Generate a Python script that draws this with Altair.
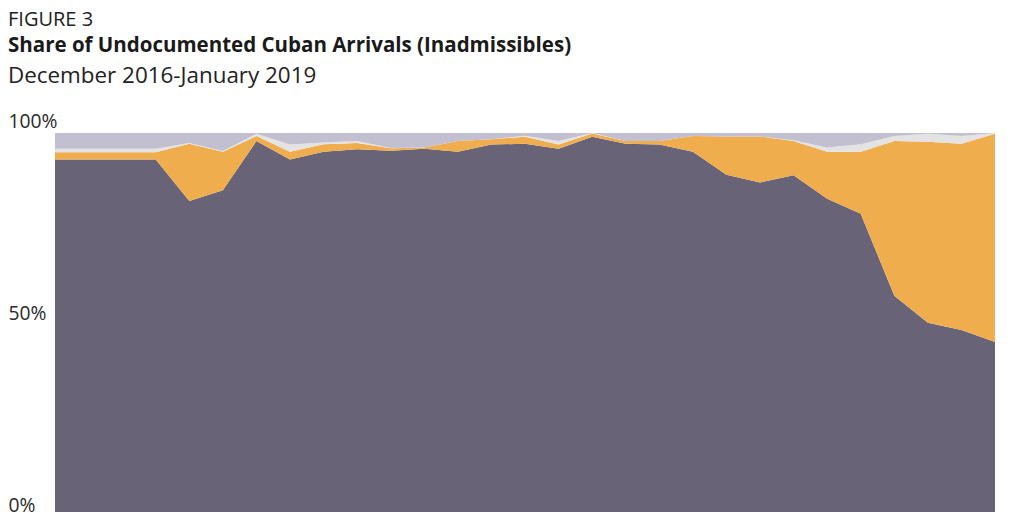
import altair as alt
import pandas as pd

# 29 evenly spaced reporting periods, December 2016 onward
periods = list(range(29))

series_names = ["Group 1", "Group 2", "Group 3", "Group 4"]
series_colors = ["#686377", "#F0AD4E", "#E3E3E3", "#C2BFD1"]

# Shares (%), bottom to top
dark = [93.1, 93.1, 93.1, 93.1, 82.3, 85.1, 97.9, 93.1, 95.1, 95.8,
        95.4, 95.9, 95.1, 97.0, 97.2, 95.9, 99.0, 97.2, 97.0, 95.1,
        89.1, 87.1, 89.0, 82.9, 79.0, 57.6, 50.6, 48.7, 45.6]
orange = [1.9, 1.9, 1.9, 1.9, 14.9, 10.0, 1.3, 2.0, 2.0, 1.6,
          0.6, 0.3, 2.8, 1.4, 1.8, 1.1, 0.9, 0.7, 0.9, 4.1,
          10.0, 12.0, 8.9, 12.2, 16.1, 40.3, 47.1, 48.5, 54.2]
light = [0.9, 0.9, 0.9, 0.9, 0.2, 0.2, 0.6, 1.9, 0.4, 0.5,
         0.1, 0.0, 0.0, 0.0, 0.3, 0.9, 0.1, 0.0, 0.0, 0.0,
         0.0, 0.0, 0.2, 1.1, 2.0, 1.3, 2.1, 2.0, 0.2]
lavender = [4.1, 4.1, 4.1, 4.1, 2.6, 4.7, 0.2, 3.0, 2.5, 2.1,
            3.9, 3.8, 2.1, 1.6, 0.7, 2.1, 0.0, 2.1, 2.1, 0.8,
            0.9, 0.9, 1.9, 3.8, 2.9, 0.8, 0.2, 0.8, 0.0]

y_ticks = [0, 0.5, 1]

rows = []
for rank, (name, vals) in enumerate(zip(series_names, [dark, orange, light, lavender])):
    for p, v in zip(periods, vals):
        rows.append({"period": p, "series": name, "share": v, "rank": rank})
df = pd.DataFrame(rows)

FONT = "Open Sans"

area = alt.Chart(df).mark_area(interpolate="linear").encode(
    x=alt.X("period:Q", scale=alt.Scale(domain=[0, 28], nice=False, zero=False), axis=None),
    y=alt.Y(
        "share:Q",
        stack="normalize",
        scale=alt.Scale(domain=[0, 1], nice=False),
        axis=alt.Axis(
            values=y_ticks, format=".0%", title=None, grid=False, ticks=False,
            domain=True, domainColor="#c8c8c8", domainWidth=1,
            labelAlign="left", labelBaseline="alphabetic", labelOffset=-6,
            labelPadding=47, labelFont=FONT, labelFontSize=19.3, labelColor="#2a2a2a",
        ),
    ),
    color=alt.Color("series:N", scale=alt.Scale(domain=series_names, range=series_colors), legend=None),
    order=alt.Order("rank:Q", sort="ascending"),
).properties(
    width=940,
    height=384,
    title=alt.TitleParams(
        text="Share of Undocumented Cuban Arrivals (Inadmissibles)",
        subtitle="December 2016-January 2019",
        anchor="start",
        font=FONT, fontSize=20.5, fontWeight="bold", color="#1a1a1a",
        subtitleFont=FONT, subtitleFontSize=22.4, subtitleColor="#222222",
        subtitlePadding=8, offset=25,
    ),
)

chart = alt.vconcat(area).properties(
    title=alt.TitleParams(
        text="FIGURE 3", anchor="start", font=FONT, fontSize=20,
        fontWeight="normal", color="#222222", offset=8, dy=2,
    ),
    padding={"left": 0, "top": 2, "right": 0, "bottom": 0},
).configure_view(stroke=None)

chart.save("out.html", embed_options={"renderer": "svg", "actions": False})
